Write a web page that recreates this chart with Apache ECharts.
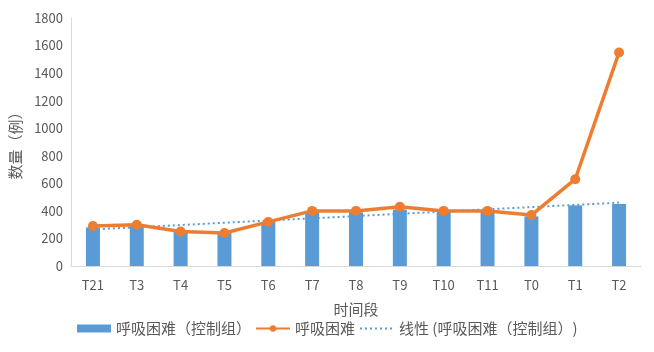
<!DOCTYPE html>
<html>
<head>
<meta charset="utf-8">
<script src="https://cdn.jsdelivr.net/npm/echarts@6/dist/echarts.min.js"></script>
<style>
  html, body { margin: 0; padding: 0; background: #fff; }
  #main { width: 654px; height: 352px; }
</style>
</head>
<body>
<div id="main"></div>
<script>
// 时间段
const categories = ['T21', 'T3', 'T4', 'T5', 'T6', 'T7', 'T8', 'T9', 'T10', 'T11', 'T0', 'T1', 'T2'];
// 呼吸困难（控制组）柱
const controlValues = [280, 290, 260, 240, 320, 390, 390, 410, 400, 400, 360, 440, 450];
// 呼吸困难 折线
const caseValues = [290, 300, 250, 240, 320, 400, 400, 430, 400, 400, 370, 630, 1550];
// 线性趋势线，只读了两端
const trendValues = [265, null, null, null, null, null, null, null, null, null, null, null, 460];
const yTicks = { min: 0, max: 1800, interval: 200 };

const font = '"Noto Sans CJK SC", "Microsoft YaHei", sans-serif';
const textColor = '#595959';

const myChart = echarts.init(document.getElementById('main'));

const option = {
  animation: false,
  textStyle: { fontFamily: font },
  grid: { left: 66, right: 13, top: 18, bottom: 86, containLabel: false },
  legend: {
    bottom: 11,
    left: 72,
    itemGap: 4,
    itemWidth: 34,
    itemHeight: 8,
    textStyle: { color: textColor, fontSize: 15, fontFamily: font },
    data: [
      { name: '呼吸困难（控制组）', icon: 'rect', itemStyle: { color: '#5B9BD5' } },
      { name: '呼吸困难' },
      { name: '线性 (呼吸困难（控制组）)', itemStyle: { opacity: 0 } },
    ],
  },
  xAxis: {
    type: 'category',
    data: categories,
    name: '时间段',
    nameLocation: 'middle',
    nameGap: 36,
    nameTextStyle: { color: textColor, fontSize: 15, fontFamily: font },
    axisLine: { lineStyle: { color: '#D9D9D9', width: 1 } },
    axisTick: { show: false },
    axisLabel: { color: textColor, fontSize: 13, margin: 13, fontFamily: font },
  },
  yAxis: {
    type: 'value',
    min: yTicks.min,
    max: yTicks.max,
    interval: yTicks.interval,
    name: '数量（例）',
    nameLocation: 'middle',
    nameGap: 48,
    nameRotate: 90,
    nameTextStyle: { color: textColor, fontSize: 15, fontFamily: font },
    axisLine: { show: true, lineStyle: { color: '#D9D9D9', width: 1 } },
    axisTick: { show: false },
    splitLine: { show: false },
    axisLabel: {
      color: textColor, fontSize: 13, margin: 8, fontFamily: font,
      formatter: (v) => String(v),
    },
  },
  series: [
    {
      name: '呼吸困难（控制组）',
      type: 'bar',
      data: controlValues,
      barWidth: 14,
      itemStyle: { color: '#5B9BD5' },
      z: 1,
    },
    {
      name: '线性 (呼吸困难（控制组）)',
      type: 'line',
      data: trendValues,
      connectNulls: true,
      showSymbol: false,
      symbol: 'none',
      lineStyle: { color: '#5B9BD5', width: 2, type: [2, 3] },
      itemStyle: { color: '#5B9BD5' },
      z: 2,
    },
    {
      name: '呼吸困难',
      type: 'line',
      data: caseValues,
      symbol: 'circle',
      symbolSize: 10,
      lineStyle: { color: '#ED7D31', width: 3.5 },
      itemStyle: { color: '#ED7D31' },
      z: 3,
    },
  ],
};

myChart.setOption(option);
</script>
</body>
</html>
